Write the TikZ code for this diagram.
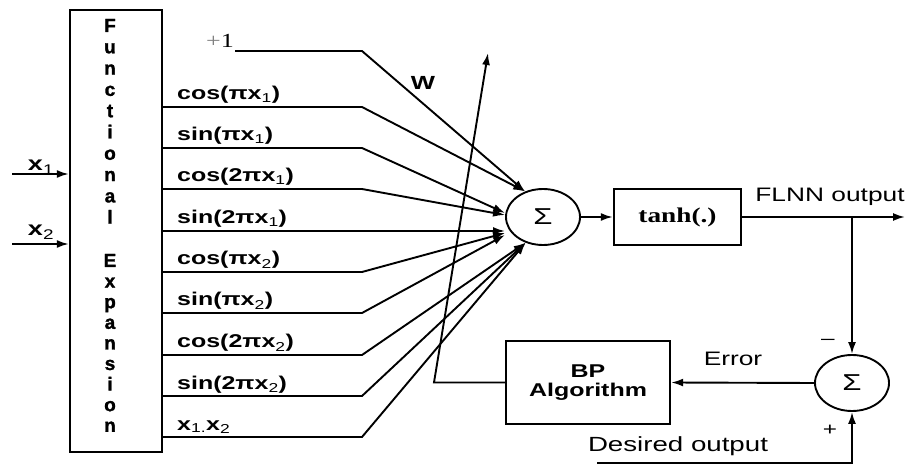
\documentclass[tikz,border=0pt]{standalone}
\usepackage{fontspec}
\setmainfont{Liberation Sans}
\newfontfamily\lab[FakeStretch=1.35]{Liberation Sans}
\newfontfamily\heavy[BoldFeatures={FakeBold=1.5}]{Liberation Sans}
\newfontfamily\serf[FakeStretch=1.3]{Liberation Serif}
\usetikzlibrary{arrows.meta,shapes.geometric}
\begin{document}
\begin{tikzpicture}[x=1pt,y=-1pt,
  wire/.style={line width=1.9pt},
  arr/.style={wire,-{Latex[length=12pt,width=8pt]}},
  box/.style={draw,line width=2.4pt,inner sep=0pt},
  sig/.style={draw,ellipse,line width=1.9pt,minimum width=74pt,minimum height=56pt,inner sep=0pt,font=\lab\fontsize{23}{26}\selectfont},
  fel/.style={inner sep=0pt,anchor=base,font=\heavy\bfseries\fontsize{19}{20}\selectfont},
  flab/.style={inner sep=0pt,anchor=base west,font=\lab\bfseries\fontsize{18.5}{20}\selectfont},
  txt/.style={inner sep=0pt,font=\lab\fontsize{19.5}{22}\selectfont},
  btxt/.style={inner sep=0pt,font=\lab\bfseries\fontsize{18.5}{22}\selectfont,align=center}
]
\useasboundingbox (0,0) rectangle (914,465);

% Functional expansion block
\node[box,minimum width=92pt,minimum height=442pt] (fe) at (116,231) {};
\foreach \ch [count=\k from 0] in {F,u,n,c,t,i,o,n,a,l}
  \node[fel] (fa\k) at (110,32+21.3*\k) {\ch};
\foreach \ch [count=\k from 0] in {E,x,p,a,n,s,i,o,n}
  \node[fel] (fb\k) at (110,267+20.6*\k) {\ch};

% inputs
\coordinate (in1) at (12,174);
\coordinate (in2) at (12,244);
\draw[arr] (in1) -- (fe.west |- in1);
\draw[arr] (in2) -- (fe.west |- in2);
\node[flab,anchor=base,font=\lab\bfseries\fontsize{20}{22}\selectfont] (x1) at (41,171) {x\textsubscript{\mdseries 1}};
\node[flab,anchor=base,font=\lab\bfseries\fontsize{20}{22}\selectfont] (x2) at (41,236) {x\textsubscript{\mdseries 2}};

% summing nodes and blocks
\node[sig] (s1) at (543,217) {Σ};
\node[box,minimum width=127pt,minimum height=56pt,font=\serf\bfseries\fontsize{21}{24}\selectfont] (th) at (677.5,217) {tanh(.)};
\node[box,minimum width=164pt,minimum height=83pt,btxt] (bp) at (588,382.5) {BP\\[-3pt]Algorithm};
\node[sig] (s2) at (852,383) {Σ};

% bias input
\node[inner sep=0pt,anchor=base east,font=\serf\fontsize{20}{22}\selectfont] (one) at (234,48) {{\color{gray}+}1};
\coordinate (p0) at (235,51);
\coordinate (b0) at (362,51);
\draw[arr] (p0) -- (b0) -- (s1.125);
\node[inner sep=0pt,font=\lab\bfseries\fontsize{19}{22}\selectfont] (w) at (423,83) {W};

% expansion outputs
\coordinate (b1) at (362,107);
\coordinate (b2) at (362,148);
\coordinate (b3) at (362,189);
\coordinate (b4) at (362,231);
\coordinate (b5) at (362,272);
\coordinate (b6) at (362,313);
\coordinate (b7) at (362,355);
\coordinate (b8) at (362,396);
\coordinate (b9) at (362,437);
\draw[arr] (fe.east |- b1) -- (b1) -- (s1.125);
\draw[arr] (fe.east |- b2) -- (b2) -- ([yshift=4pt]s1.west);
\draw[arr] (fe.east |- b3) -- (b3) -- ([yshift=2pt]s1.west);
\draw[arr] (fe.east |- b4) -- ([yshift=-14pt]s1.west);
\draw[arr] (fe.east |- b5) -- (b5) -- ([yshift=-16pt]s1.west);
\draw[arr] (fe.east |- b6) -- (b6) -- ([yshift=-18pt]s1.west);
\draw[arr] (fe.east |- b7) -- (b7) -- (s1.236);
\draw[arr] (fe.east |- b8) -- (b8) -- (s1.236);
\draw[arr] (fe.east |- b9) -- (b9) -- (s1.236);

\node[flab] (c1) at (177,100) {cos(πx\textsubscript{\mdseries 1})};
\node[flab] (c2) at (177,141) {sin(πx\textsubscript{\mdseries 1})};
\node[flab] (c3) at (177,182) {cos(2πx\textsubscript{\mdseries 1})};
\node[flab] (c4) at (177,224) {sin(2πx\textsubscript{\mdseries 1})};
\node[flab] (c5) at (177,265) {cos(πx\textsubscript{\mdseries 2})};
\node[flab] (c6) at (177,306) {sin(πx\textsubscript{\mdseries 2})};
\node[flab] (c7) at (177,348) {cos(2πx\textsubscript{\mdseries 2})};
\node[flab] (c8) at (177,389) {sin(2πx\textsubscript{\mdseries 2})};
\node[flab] (c9) at (177,430) {x\textsubscript{\mdseries 1.}x\textsubscript{\mdseries 2}};

% forward path
\draw[arr] (s1.east) -- (th.west);
\coordinate (out) at (905,217);
\coordinate (j) at (852,217);
\draw[arr] (th.east) -- (out);
\node[txt] (fo) at (830,197) {FLNN output};
\draw[arr] (j) -- (s2.north);

% error path
\draw[arr] (s2.west) -- (bp.east);
\node[txt] (er) at (733,359) {Error};
\coordinate (d0) at (597,463);
\draw[arr] (d0) -- (d0 -| s2.south) -- (s2.south);
\node[txt,font=\lab\fontsize{20.5}{22}\selectfont] (de) at (678,446) {Desired output};
\node[txt,font=\lab\fontsize{18}{18}\selectfont] (mi) at (828,342) {\textendash};
\node[txt,font=\lab\fontsize{18}{18}\selectfont] (pl) at (830,430) {+};

% weight update
\coordinate (wc) at (434,382.5);
\coordinate (wt) at (488,53);
\draw[arr] (bp.west) -- (wc) -- (wt);
\end{tikzpicture}
\end{document}
